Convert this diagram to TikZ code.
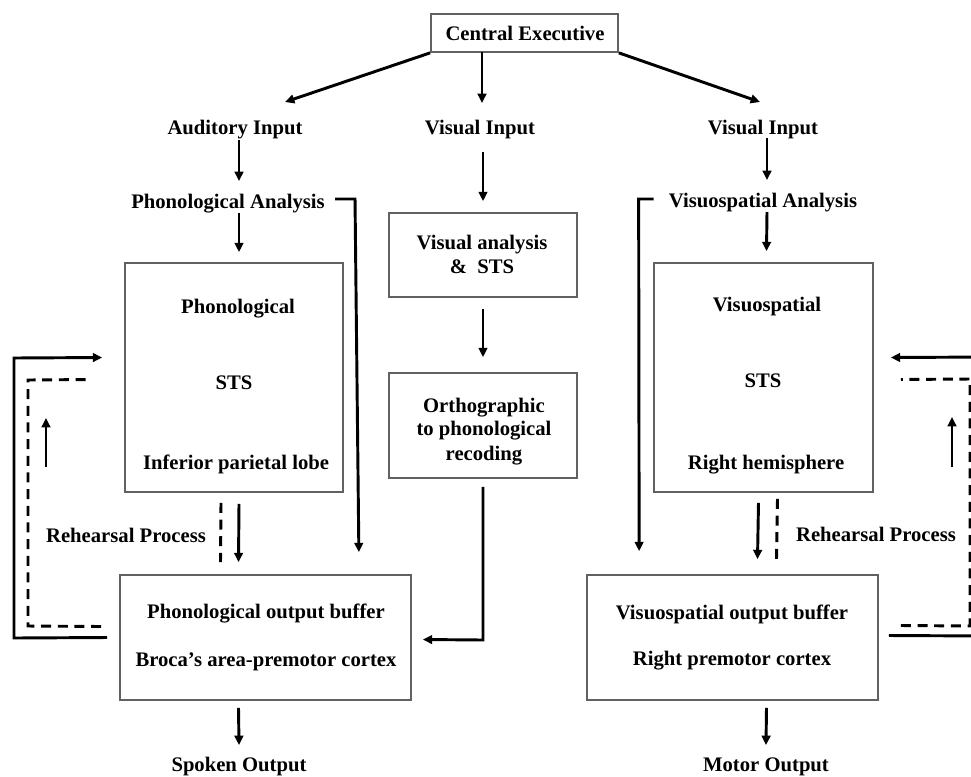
\documentclass[tikz,border=0pt]{standalone}
\usepackage{fontspec}
\setmainfont{Liberation Serif}
\usetikzlibrary{arrows.meta,fit,calc}
\begin{document}
\begin{tikzpicture}[x=0.75pt,y=-0.75pt,
  lbl/.style={inner sep=0pt,text height=10.5pt,text depth=0pt,font=\fontsize{15.5pt}{18pt}\selectfont\bfseries},
  box/.style={draw=black!62,line width=1.3pt,inner sep=0pt},
  conn/.style={line width=2.2pt,black},
  arr/.style={conn,-{Triangle[length=7pt,width=6.5pt]}},
  dsh/.style={conn,dash pattern=on 7.5pt off 5pt}]
\useasboundingbox (0,0) rectangle (971,776);
\clip (0,0) rectangle (971,776);
% boxes
\node[box,fit={(431,14) (618,52)}] (ce) {};
\node[box,fit={(125,263) (343,492)}] (phbox) {};
\node[box,fit={(389,213) (577,297)}] (vabox) {};
\node[box,fit={(389,373) (577,478)}] (orbox) {};
\node[box,fit={(654,263) (873,492)}] (vsbox) {};
\node[box,fit={(120,575) (411,700)}] (pbuf) {};
\node[box,fit={(587,575) (878,700)}] (vbuf) {};
% texts
\node[lbl] (cet) at (525,33) {Central Executive};
\node[lbl] (ai) at (235,127) {Auditory Input};
\node[lbl] (vi) at (480,127) {Visual Input};
\node[lbl] (vi2) at (763,127) {Visual Input};
\node[lbl] (pa) at (228,201) {Phonological Analysis};
\node[lbl] (vsa) at (763,200) {Visuospatial Analysis};
\node[lbl] (ph1) at (238,306) {Phonological};
\node[lbl] (ph2) at (234,382) {STS};
\node[lbl] (ph3) at (236,462) {Inferior parietal lobe};
\node[lbl] (va1) at (482,242) {Visual analysis};
\node[lbl] (va2) at (482,266) {\&\ \ STS};
\node[lbl] (or1) at (484,405) {Orthographic};
\node[lbl] (or2) at (484,428) {to phonological};
\node[lbl] (or3) at (484,453) {recoding};
\node[lbl] (vs1) at (767,304) {Visuospatial};
\node[lbl] (vs2) at (763,380) {STS};
\node[lbl] (vs3) at (766,462) {Right hemisphere};
\node[lbl] (rh1) at (126,535) {Rehearsal Process};
\node[lbl] (rh2) at (876,534) {Rehearsal Process};
\node[lbl] (pb1) at (266,611) {Phonological output buffer};
\node[lbl] (pb2) at (266,659) {Broca’s area-premotor cortex};
\node[lbl] (vb1) at (732,612) {Visuospatial output buffer};
\node[lbl] (vb2) at (732,658) {Right premotor cortex};
\node[lbl] (so) at (239,764) {Spoken Output};
\node[lbl] (mo) at (766,764) {Motor Output};
% coordinates for free ends
\coordinate (aiT) at (285,102);
\coordinate (viT) at (482,103);
\coordinate (vi2T) at (760,102);
\coordinate (ceM) at (482,52);
% top fan
\draw[arr] (ce.south west) -- (aiT);
\draw[arr] (ceM) -- (viT);
\draw[arr] (ce.south east) -- (vi2T);
% left column
\draw[arr] ($(ai)+(4,13)$) -- ($(pa)+(11,-20)$);
\draw[arr] ($(pa)+(11,12)$) -- ($(phbox.north)+(5,-10)$);
\draw[arr] ($(pa.east)+(10,-2)$) -- ($(pa.east)+(30,-2)$) -- ($(pbuf.north east)+(-53,-22)$);
\draw[arr] ($(phbox.south)+(5,11)$) -- ($(pbuf.north)+(-27,-12)$);
\draw[dsh] ($(phbox.south)+(-13,10)$) -- ($(pbuf.north)+(-45,-12)$);
\draw[arr] ($(pbuf.south)+(-27,7)$) -- ($(so)+(0,-19)$);
% left loop
\draw[arr] ($(pbuf.west)+(-12,0)$) -- (14,638) -- (14,358) -- ($(phbox.west)+(-22,-20)$);
\draw[dsh] ($(pbuf.west)+(-18,-11)$) -- (28,626) -- (28,380) -- ($(phbox.west)+(-35,2)$);
\draw[arr] (46,467) -- (46,418);
% middle column
\draw[arr] ($(vi)+(3,25)$) -- ($(vabox.north)+(0,-11)$);
\draw[arr] ($(vabox.south)+(0,11)$) -- ($(orbox.north)+(0,-15)$);
\draw[arr] ($(orbox.south)+(0,8)$) -- (483,640) -- ($(pbuf.east)+(11,2)$);
% right column
\draw[arr] ($(vi2)+(4,11)$) -- ($(vsa)+(4,-20)$);
\draw[arr] ($(vsa)+(4,12)$) -- ($(vsbox.north)+(3,-11)$);
\draw[arr] ($(vsa.west)+(-15,-1)$) -- ($(vsa.west)+(-30,-1)$) -- ($(vbuf.north west)+(53,-23)$);
\draw[arr] ($(vsbox.south)+(-5,10)$) -- ($(vbuf.north)+(25,-15)$);
\draw[dsh] ($(vsbox.south)+(14,6)$) -- ($(vbuf.north)+(44,-15)$);
\draw[arr] ($(vbuf.south)+(34,7)$) -- ($(mo)+(0,-19)$);
% right loop
\draw[conn] ($(vbuf.east)+(10,-2)$) -- (990,636) -- (990,357);
\draw[arr] (990,357) -- ($(vsbox.east)+(17,-20)$);
\draw[dsh] ($(vbuf.east)+(22,-12)$) -- (970,626) -- (970,379) -- ($(vsbox.east)+(27,2)$);
\draw[arr] (952,467) -- (952,417);
\end{tikzpicture}
\end{document}
